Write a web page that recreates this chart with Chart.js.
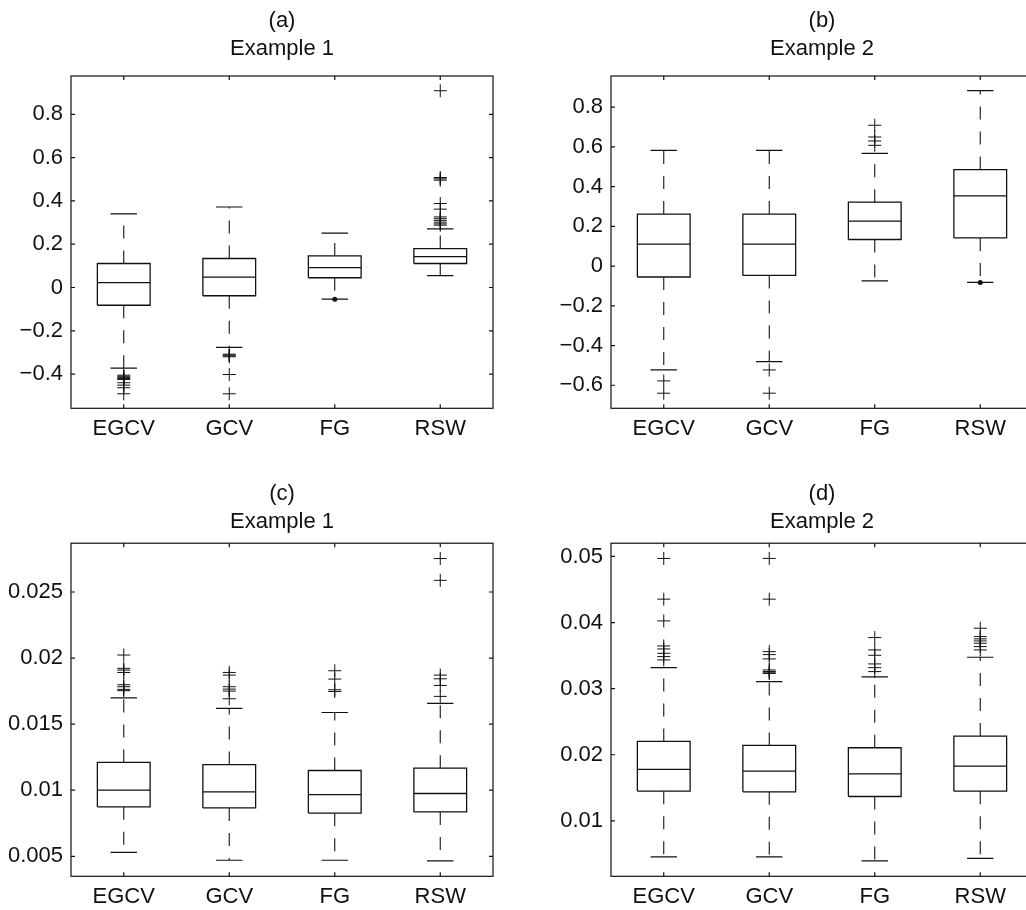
<!DOCTYPE html>
<html>
<head>
<meta charset="utf-8">
<title>Box plots</title>
<script src="https://cdn.jsdelivr.net/npm/chart.js@4"></script>
<style>
  html, body { margin: 0; padding: 0; background: #fff; overflow: hidden; }
  #page { position: relative; width: 1026px; height: 910px; overflow: hidden; }
  canvas { position: absolute; }
</style>
</head>
<body>
<div id="page">
  <canvas id="panelA" width="513" height="455" style="left:0;top:0"></canvas>
  <canvas id="panelB" width="540" height="455" style="left:513px;top:0"></canvas>
  <canvas id="panelC" width="513" height="455" style="left:0;top:455px"></canvas>
  <canvas id="panelD" width="540" height="455" style="left:513px;top:455px"></canvas>
</div>
<script>
const categories = ['EGCV', 'GCV', 'FG', 'RSW']

// (a) Example 1
const lowA = [-0.372, -0.277, -0.054, 0.055]
const q1A = [-0.082, -0.038, 0.045, 0.111]
const medA = [0.023, 0.048, 0.092, 0.143]
const q3A = [0.111, 0.134, 0.146, 0.180]
const highA = [0.340, 0.372, 0.251, 0.271]
const outA = [
  [-0.405, -0.41, -0.415, -0.42, -0.425, -0.44, -0.451, -0.463, -0.491],
  [-0.308, -0.312, -0.316, -0.32, -0.402, -0.491],
  [],
  [0.909, 0.508, 0.502, 0.496, 0.388, 0.362, 0.326, 0.318, 0.31, 0.302, 0.294, 0.288]
]
const dotsA = [[], [], [-0.054], []]
const yTicksA = [-0.4, -0.2, 0, 0.2, 0.4, 0.6, 0.8]

// (b) Example 2
const lowB = [-0.523, -0.481, -0.074, -0.082]
const q1B = [-0.055, -0.047, 0.134, 0.142]
const medB = [0.111, 0.111, 0.226, 0.354]
const q3B = [0.262, 0.262, 0.322, 0.486]
const highB = [0.583, 0.583, 0.568, 0.883]
const outB = [
  [-0.578, -0.640],
  [-0.523, -0.640],
  [0.709, 0.650, 0.630, 0.608],
  []
]
const dotsB = [[], [], [], [-0.082]]
const yTicksB = [-0.6, -0.4, -0.2, 0, 0.2, 0.4, 0.6, 0.8]

// (c) Example 1
const lowC = [0.0053, 0.0047, 0.0047, 0.00465]
const q1C = [0.00874, 0.00866, 0.00826, 0.00836]
const medC = [0.0100, 0.00987, 0.00967, 0.00975]
const q3C = [0.0121, 0.01194, 0.01149, 0.01167]
const highC = [0.01699, 0.01619, 0.01588, 0.01657]
const outC = [
  [0.02023, 0.01922, 0.01909, 0.01891, 0.01798, 0.01783, 0.01763, 0.01753],
  [0.01891, 0.01871, 0.01783, 0.01765, 0.0175, 0.01692],
  [0.01904, 0.01841, 0.0176, 0.01747],
  [0.02753, 0.02588, 0.01871, 0.01843, 0.01793, 0.0171]
]
const yTicksC = [0.005, 0.01, 0.015, 0.02, 0.025]

// (d) Example 2
const lowD = [0.00455, 0.00455, 0.00394, 0.00434]
const q1D = [0.0145, 0.0144, 0.01369, 0.0145]
const medD = [0.01778, 0.01753, 0.01712, 0.01828]
const q3D = [0.02202, 0.02141, 0.02106, 0.02283]
const highD = [0.03318, 0.03106, 0.03177, 0.03475]
const outD = [
  [0.0497, 0.04354, 0.04025, 0.03646, 0.03601, 0.03535, 0.03485, 0.03434],
  [0.0497, 0.04354, 0.0356, 0.03515, 0.0345, 0.03283, 0.0326, 0.0324, 0.0323],
  [0.03773, 0.03586, 0.03505, 0.03374, 0.03318, 0.03258],
  [0.03914, 0.03788, 0.03753, 0.03722, 0.03687, 0.03636, 0.03586]
]
const yTicksD = [0.01, 0.02, 0.03, 0.04, 0.05]

const INK = '#111'
const FONT = "'Liberation Sans', Arial, Helvetica, sans-serif"
Chart.defaults.font.family = FONT
Chart.defaults.color = INK

// box outlines as closed paths, separated by gaps
function boxPoints(q1, q3) {
  const pts = []
  q1.forEach((lo, i) => {
    const x = i + 1
    pts.push({ x: x - 0.25, y: lo }, { x: x + 0.25, y: lo }, { x: x + 0.25, y: q3[i] },
      { x: x - 0.25, y: q3[i] }, { x: x - 0.25, y: lo }, { x: x, y: null })
  })
  return pts
}

function hLines(values, half) {
  const pts = []
  values.forEach((v, i) => {
    const x = i + 1
    pts.push({ x: x - half, y: v }, { x: x + half, y: v }, { x: x, y: null })
  })
  return pts
}

function vLines(from, to) {
  const pts = []
  from.forEach((v, i) => {
    const x = i + 1
    pts.push({ x: x, y: v }, { x: x, y: to[i] }, { x: x, y: null })
  })
  return pts
}

function points(groups) {
  return groups.flatMap((vals, i) => vals.map(v => ({ x: i + 1, y: v })))
}

// frame around the plot with inward ticks on all four sides
const frame = {
  id: 'frame',
  afterDraw(chart) {
    const { ctx, chartArea: a, scales: { x, y } } = chart
    ctx.save()
    ctx.strokeStyle = INK
    ctx.lineWidth = 1.2
    ctx.strokeRect(a.left, a.top, a.right - a.left, a.bottom - a.top)
    ctx.beginPath()
    x.ticks.forEach(t => {
      const px = x.getPixelForValue(t.value)
      ctx.moveTo(px, a.bottom); ctx.lineTo(px, a.bottom - 4)
      ctx.moveTo(px, a.top); ctx.lineTo(px, a.top + 4)
    })
    y.ticks.forEach(t => {
      const py = y.getPixelForValue(t.value)
      ctx.moveTo(a.left, py); ctx.lineTo(a.left + 4, py)
      ctx.moveTo(a.right, py); ctx.lineTo(a.right - 4, py)
    })
    ctx.stroke()
    ctx.restore()
  }
}

function formatTick(v) {
  return String(+v.toFixed(4)).replace('-', '\u2212')
}

function makePanel(id, p) {
  const seg = { borderColor: INK, pointRadius: 0, fill: false, tension: 0 }
  const datasets = [
    { ...seg, data: vLines(p.q3, p.high), borderWidth: 1.1, borderDash: [13, 12] },
    { ...seg, data: vLines(p.q1, p.low), borderWidth: 1.1, borderDash: [13, 12] },
    { ...seg, data: hLines(p.high, 0.125), borderWidth: 1.2 },
    { ...seg, data: hLines(p.low, 0.125), borderWidth: 1.2 },
    { ...seg, data: boxPoints(p.q1, p.q3), borderWidth: 1.3, borderJoinStyle: 'miter' },
    { ...seg, data: hLines(p.med, 0.25), borderWidth: 1.3 },
    {
      data: points(p.outliers), showLine: false, pointStyle: 'cross', pointRadius: 6.5,
      pointBorderWidth: 1, pointBorderColor: INK
    }
  ]
  if (p.dots) {
    datasets.push({
      data: points(p.dots), showLine: false, pointStyle: 'circle', pointRadius: 2.5,
      pointBorderWidth: 0, pointBackgroundColor: INK
    })
  }

  new Chart(document.getElementById(id), {
    type: 'line',
    data: { datasets },
    options: {
      responsive: false,
      animation: false,
      events: [],
      spanGaps: false,
      layout: { padding: { left: 0, right: 20, top: 0, bottom: 0 } },
      plugins: {
        legend: { display: false },
        tooltip: { enabled: false },
        title: {
          display: true,
          text: p.title,
          fullSize: false,
          color: INK,
          font: { size: 22, weight: 'normal', lineHeight: 1.28 },
          padding: p.titlePad
        }
      },
      scales: {
        x: {
          type: 'linear',
          min: 0.5,
          max: 4.5,
          grid: { display: false, drawTicks: false },
          border: { display: false },
          afterBuildTicks: s => { s.ticks = categories.map((c, i) => ({ value: i + 1 })) },
          afterFit: s => { s.height = p.axisHeight },
          ticks: {
            autoSkip: false,
            maxRotation: 0,
            padding: 7,
            color: INK,
            font: { size: 22 },
            callback: v => categories[Math.round(v) - 1]
          }
        },
        y: {
          type: 'linear',
          min: p.yMin,
          max: p.yMax,
          grid: { display: false, drawTicks: false },
          border: { display: false },
          afterBuildTicks: s => { s.ticks = p.yTicks.map(v => ({ value: v })) },
          afterFit: s => { s.width = p.axisWidth },
          ticks: {
            padding: 8,
            color: INK,
            font: { size: 22 },
            callback: v => formatTick(v)
          }
        }
      }
    },
    plugins: [frame]
  })
}

const topPad = { top: 6.5, bottom: 13.2 }
const lowPad = { top: 24.4, bottom: 7.5 }

makePanel('panelA', {
  title: ['(a)', 'Example 1'], low: lowA, q1: q1A, med: medA, q3: q3A, high: highA,
  outliers: outA, dots: dotsA, yTicks: yTicksA, yMin: -0.558, yMax: 0.977,
  axisWidth: 71, axisHeight: 46.7, titlePad: topPad
})
makePanel('panelB', {
  title: ['(b)', 'Example 2'], low: lowB, q1: q1B, med: medB, q3: q3B, high: highB,
  outliers: outB, dots: dotsB, yTicks: yTicksB, yMin: -0.716, yMax: 0.957,
  axisWidth: 98, axisHeight: 46.7, titlePad: topPad
})
makePanel('panelC', {
  title: ['(c)', 'Example 1'], low: lowC, q1: q1C, med: medC, q3: q3C, high: highC,
  outliers: outC, yTicks: yTicksC, yMin: 0.003485, yMax: 0.02869,
  axisWidth: 71, axisHeight: 33.7, titlePad: lowPad
})
makePanel('panelD', {
  title: ['(d)', 'Example 2'], low: lowD, q1: q1D, med: medD, q3: q3D, high: highD,
  outliers: outD, yTicks: yTicksD, yMin: 0.001616, yMax: 0.052,
  axisWidth: 98, axisHeight: 33.7, titlePad: lowPad
})
</script>
</body>
</html>
